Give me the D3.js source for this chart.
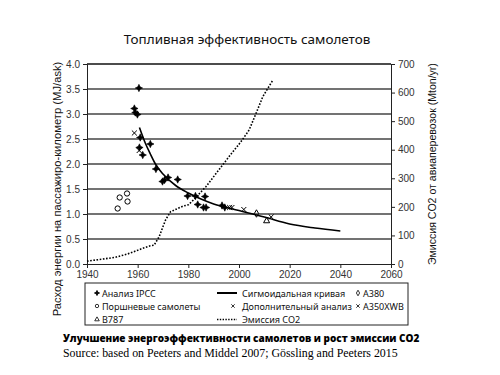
<!DOCTYPE html>
<html>
<head>
<meta charset="utf-8">
<script src="https://cdn.jsdelivr.net/npm/d3@7"></script>
<style>
  body { margin: 0; background: #fff; }
  svg { display: block; }
</style>
</head>
<body>
<svg id="chart" width="500" height="375"></svg>
<script>
// --- data ---
const ipccYears = [1960.5, 1958.7, 1959.1, 1959.9, 1961, 1960.7, 1962, 1965, 1967.2, 1969.8, 1970.6, 1972, 1975.8, 1979.7, 1982.8, 1986.6, 1983.7, 1987, 1986, 1993.3, 1994.4]
const ipccVals = [3.52, 3.11, 3.03, 2.99, 2.53, 2.33, 2.18, 2.4, 1.9, 1.65, 1.68, 1.73, 1.69, 1.36, 1.36, 1.35, 1.19, 1.13, 1.13, 1.17, 1.13]

const pistonYears = [1952.1, 1952.9, 1955.8, 1956]
const pistonVals = [1.11, 1.33, 1.41, 1.25]

const extraYears = [1958.7, 1960.6, 1996.3, 1997.2, 2001.9]
const extraVals = [2.62, 2.27, 1.13, 1.13, 1.09]

const a380 = [[2006.9, 1.01]]
const b787 = [[2010.9, 0.86]]
const a350 = [[2012.7, 0.94]]

const sigYears = [1960.7, 1963, 1965, 1967, 1970, 1975, 1980, 1985, 1990, 2000, 2010, 2020, 2030, 2040]
const sigVals = [2.73, 2.42, 2.2, 2.0, 1.8, 1.57, 1.42, 1.3, 1.2, 1.07, 0.94, 0.8, 0.72, 0.66]

const co2Years = [1940, 1946, 1951, 1956, 1960, 1962, 1965, 1966.5, 1968.5, 1970, 1971, 1973, 1976, 1978, 1980, 1982, 1984.4, 1987, 1992, 1996, 2000, 2001.5, 2004, 2007, 2009.4, 2013.4]
const co2Vals = [10, 17, 23, 35, 48, 55, 64, 66, 96, 131, 154, 183, 195, 203, 207, 224, 247, 271, 329, 375, 419, 437, 469, 533, 586, 644]

const yearTicks = [1940, 1960, 1980, 2000, 2020, 2040, 2060]
const leftTicks = [0, 0.5, 1, 1.5, 2, 2.5, 3, 3.5, 4]
const rightTicks = [0, 100, 200, 300, 400, 500, 600, 700]

const title = "Топливная эффективность самолетов"
const leftLabel = "Расход энергии на пассажиро-километр (MJ/ask)"
const rightLabel = "Эмиссия CO2 от авиаперевозок (Mton/yr)"
const caption = "Улучшение энергоэффективности самолетов и рост эмиссии CO2"
const source = "Source: based on Peeters and Middel 2007; Gössling and Peeters 2015"

const svg = d3.select("#chart")
const axisFont = "Liberation Sans, Arial, sans-serif"
const roundFont = "Noto Sans, sans-serif"

// stretch a text's font size until it covers a wanted width
const fit = (sel, w) => {
  const len = sel.node().getComputedTextLength()
  const fs = parseFloat(sel.attr("font-size"))
  sel.attr("font-size", fs * w / len)
  return sel
}

const x = d3.scaleLinear().domain([1940, 2060]).range([87, 391])
const yL = d3.scaleLinear().domain([0, 4]).range([264, 64])
const yR = d3.scaleLinear().domain([0, 700]).range([264, 64])

// gridlines
svg.append("g")
  .selectAll("line")
  .data(leftTicks.filter(d => d > 0))
  .join("line")
  .attr("x1", x(1940)).attr("x2", x(2060))
  .attr("y1", d => yL(d)).attr("y2", d => yL(d))
  .attr("stroke", d => d === 4 ? "#111" : "#444")
  .attr("stroke-width", 1.4)

const styleAxis = g => {
  g.select(".domain").attr("stroke", "#222")
  g.selectAll(".tick line").attr("stroke", "#222")
  g.selectAll(".tick text").attr("fill", "#333").attr("font-family", axisFont).attr("font-size", 10)
}

svg.append("g")
  .attr("transform", `translate(${x(1940)},0)`)
  .call(d3.axisLeft(yL).tickValues(leftTicks).tickFormat(d3.format(".1f")).tickSizeOuter(0).tickSize(4))
  .call(styleAxis)

svg.append("g")
  .attr("transform", `translate(${x(2060)},0)`)
  .call(d3.axisRight(yR).tickValues(rightTicks).tickSizeOuter(0).tickSize(4))
  .call(styleAxis)

svg.append("g")
  .attr("transform", `translate(0,${yL(0)})`)
  .call(d3.axisBottom(x).tickValues(yearTicks).tickFormat(d3.format("d")).tickSizeOuter(0).tickSize(4))
  .call(styleAxis)

// lines
const sigLine = d3.line().x(d => x(d[0])).y(d => yL(d[1])).curve(d3.curveMonotoneX)
svg.append("path")
  .datum(d3.zip(sigYears, sigVals))
  .attr("d", sigLine)
  .attr("fill", "none").attr("stroke", "#000").attr("stroke-width", 1.6)

const co2Line = d3.line().x(d => x(d[0])).y(d => yR(d[1]))
svg.append("path")
  .datum(d3.zip(co2Years, co2Vals))
  .attr("d", co2Line)
  .attr("fill", "none").attr("stroke", "#000").attr("stroke-width", 1.6)
  .attr("stroke-dasharray", "1.6,1.6")

// markers
const star4 = {
  draw(ctx, size) {
    const r = Math.sqrt(size) * 0.75, q = r * 0.32
    ctx.moveTo(0, -r)
    ctx.lineTo(q, -q); ctx.lineTo(r, 0); ctx.lineTo(q, q)
    ctx.lineTo(0, r); ctx.lineTo(-q, q); ctx.lineTo(-r, 0); ctx.lineTo(-q, -q)
    ctx.closePath()
  }
}

const drawMarks = (data, type, size, filled) => {
  svg.append("g")
    .selectAll("path")
    .data(data)
    .join("path")
    .attr("transform", d => `translate(${x(d[0])},${yL(d[1])})`)
    .attr("d", d3.symbol(type, size))
    .attr("fill", filled ? "#000" : "none")
    .attr("stroke", "#000")
    .attr("stroke-width", filled ? 0.6 : 1)
}

drawMarks(d3.zip(pistonYears, pistonVals), d3.symbolCircle, 22, false)
drawMarks(d3.zip(extraYears, extraVals), d3.symbolTimes, 18, false)
drawMarks(a380, d3.symbolDiamond, 16, false)
drawMarks(b787, d3.symbolTriangle, 16, false)
drawMarks(a350, d3.symbolTimes, 18, false)
drawMarks(d3.zip(ipccYears, ipccVals), star4, 24, true)

// axis titles
fit(svg.append("text")
  .attr("transform", "translate(57,189) rotate(-90)")
  .attr("text-anchor", "middle").attr("dominant-baseline", "central")
  .attr("font-family", axisFont).attr("font-size", 11).attr("fill", "#111")
  .text(leftLabel), 255)

fit(svg.append("text")
  .attr("transform", "translate(432,164) rotate(-90)")
  .attr("text-anchor", "middle").attr("dominant-baseline", "central")
  .attr("font-family", axisFont).attr("font-size", 11).attr("fill", "#111")
  .text(rightLabel), 202)

// title
fit(svg.append("text")
  .attr("x", 247).attr("y", 44)
  .attr("text-anchor", "middle")
  .attr("font-family", roundFont).attr("font-size", 14).attr("fill", "#111")
  .text(title), 247)

// legend
svg.append("rect")
  .attr("x", 85).attr("y", 283).attr("width", 323).attr("height", 42)
  .attr("fill", "#fff").attr("stroke", "#222").attr("stroke-width", 1)

const legendItems = [
  { label: "Анализ IPCC", col: 0, row: 0, type: star4, size: 12, filled: true },
  { label: "Поршневые самолеты", col: 0, row: 1, type: d3.symbolCircle, size: 9 },
  { label: "B787", col: 0, row: 2, type: d3.symbolTriangle, size: 9 },
  { label: "Сигмоидальная кривая", col: 1, row: 0, line: "solid" },
  { label: "Дополнительный анализ", col: 1, row: 1, type: d3.symbolTimes, size: 9 },
  { label: "Эмиссия CO2", col: 1, row: 2, line: "dotted" },
  { label: "A380", col: 2, row: 0, type: d3.symbolDiamond, size: 9 },
  { label: "A350XWB", col: 2, row: 1, type: d3.symbolTimes, size: 9 }
]
const colMark = [97, 233, 358]
const colText = [102, 242, 363]
const rowY = [293, 306, 319.5]

const leg = svg.append("g").selectAll("g").data(legendItems).join("g")
leg.each(function (d) {
  const g = d3.select(this)
  if (d.line) {
    g.append("line")
      .attr("x1", 217).attr("x2", 237)
      .attr("y1", rowY[d.row]).attr("y2", rowY[d.row])
      .attr("stroke", "#000").attr("stroke-width", d.line === "solid" ? 2 : 1.4)
      .attr("stroke-dasharray", d.line === "solid" ? null : "1.4,1.4")
  } else {
    g.append("path")
      .attr("transform", `translate(${colMark[d.col]},${rowY[d.row]})`)
      .attr("d", d3.symbol(d.type, d.size))
      .attr("fill", d.filled ? "#000" : "none")
      .attr("stroke", "#000").attr("stroke-width", 0.8)
  }
})
const legText = leg.append("text")
  .attr("x", d => colText[d.col]).attr("y", d => rowY[d.row])
  .attr("dominant-baseline", "central")
  .attr("font-family", roundFont).attr("font-size", 10).attr("fill", "#111")
  .text(d => d.label)
const ref = legText.filter(d => d.label === "Дополнительный анализ")
fit(ref, 110)
legText.attr("font-size", ref.attr("font-size"))

// caption
fit(svg.append("text")
  .attr("x", 63).attr("y", 342)
  .attr("font-family", "Open Sans, sans-serif").attr("font-weight", 800)
  .attr("font-size", 12).attr("fill", "#000")
  .text(caption), 357)

fit(svg.append("text")
  .attr("x", 63).attr("y", 357)
  .attr("font-family", "Liberation Serif, serif")
  .attr("font-size", 12).attr("fill", "#000")
  .text(source), 335)
</script>
</body>
</html>
